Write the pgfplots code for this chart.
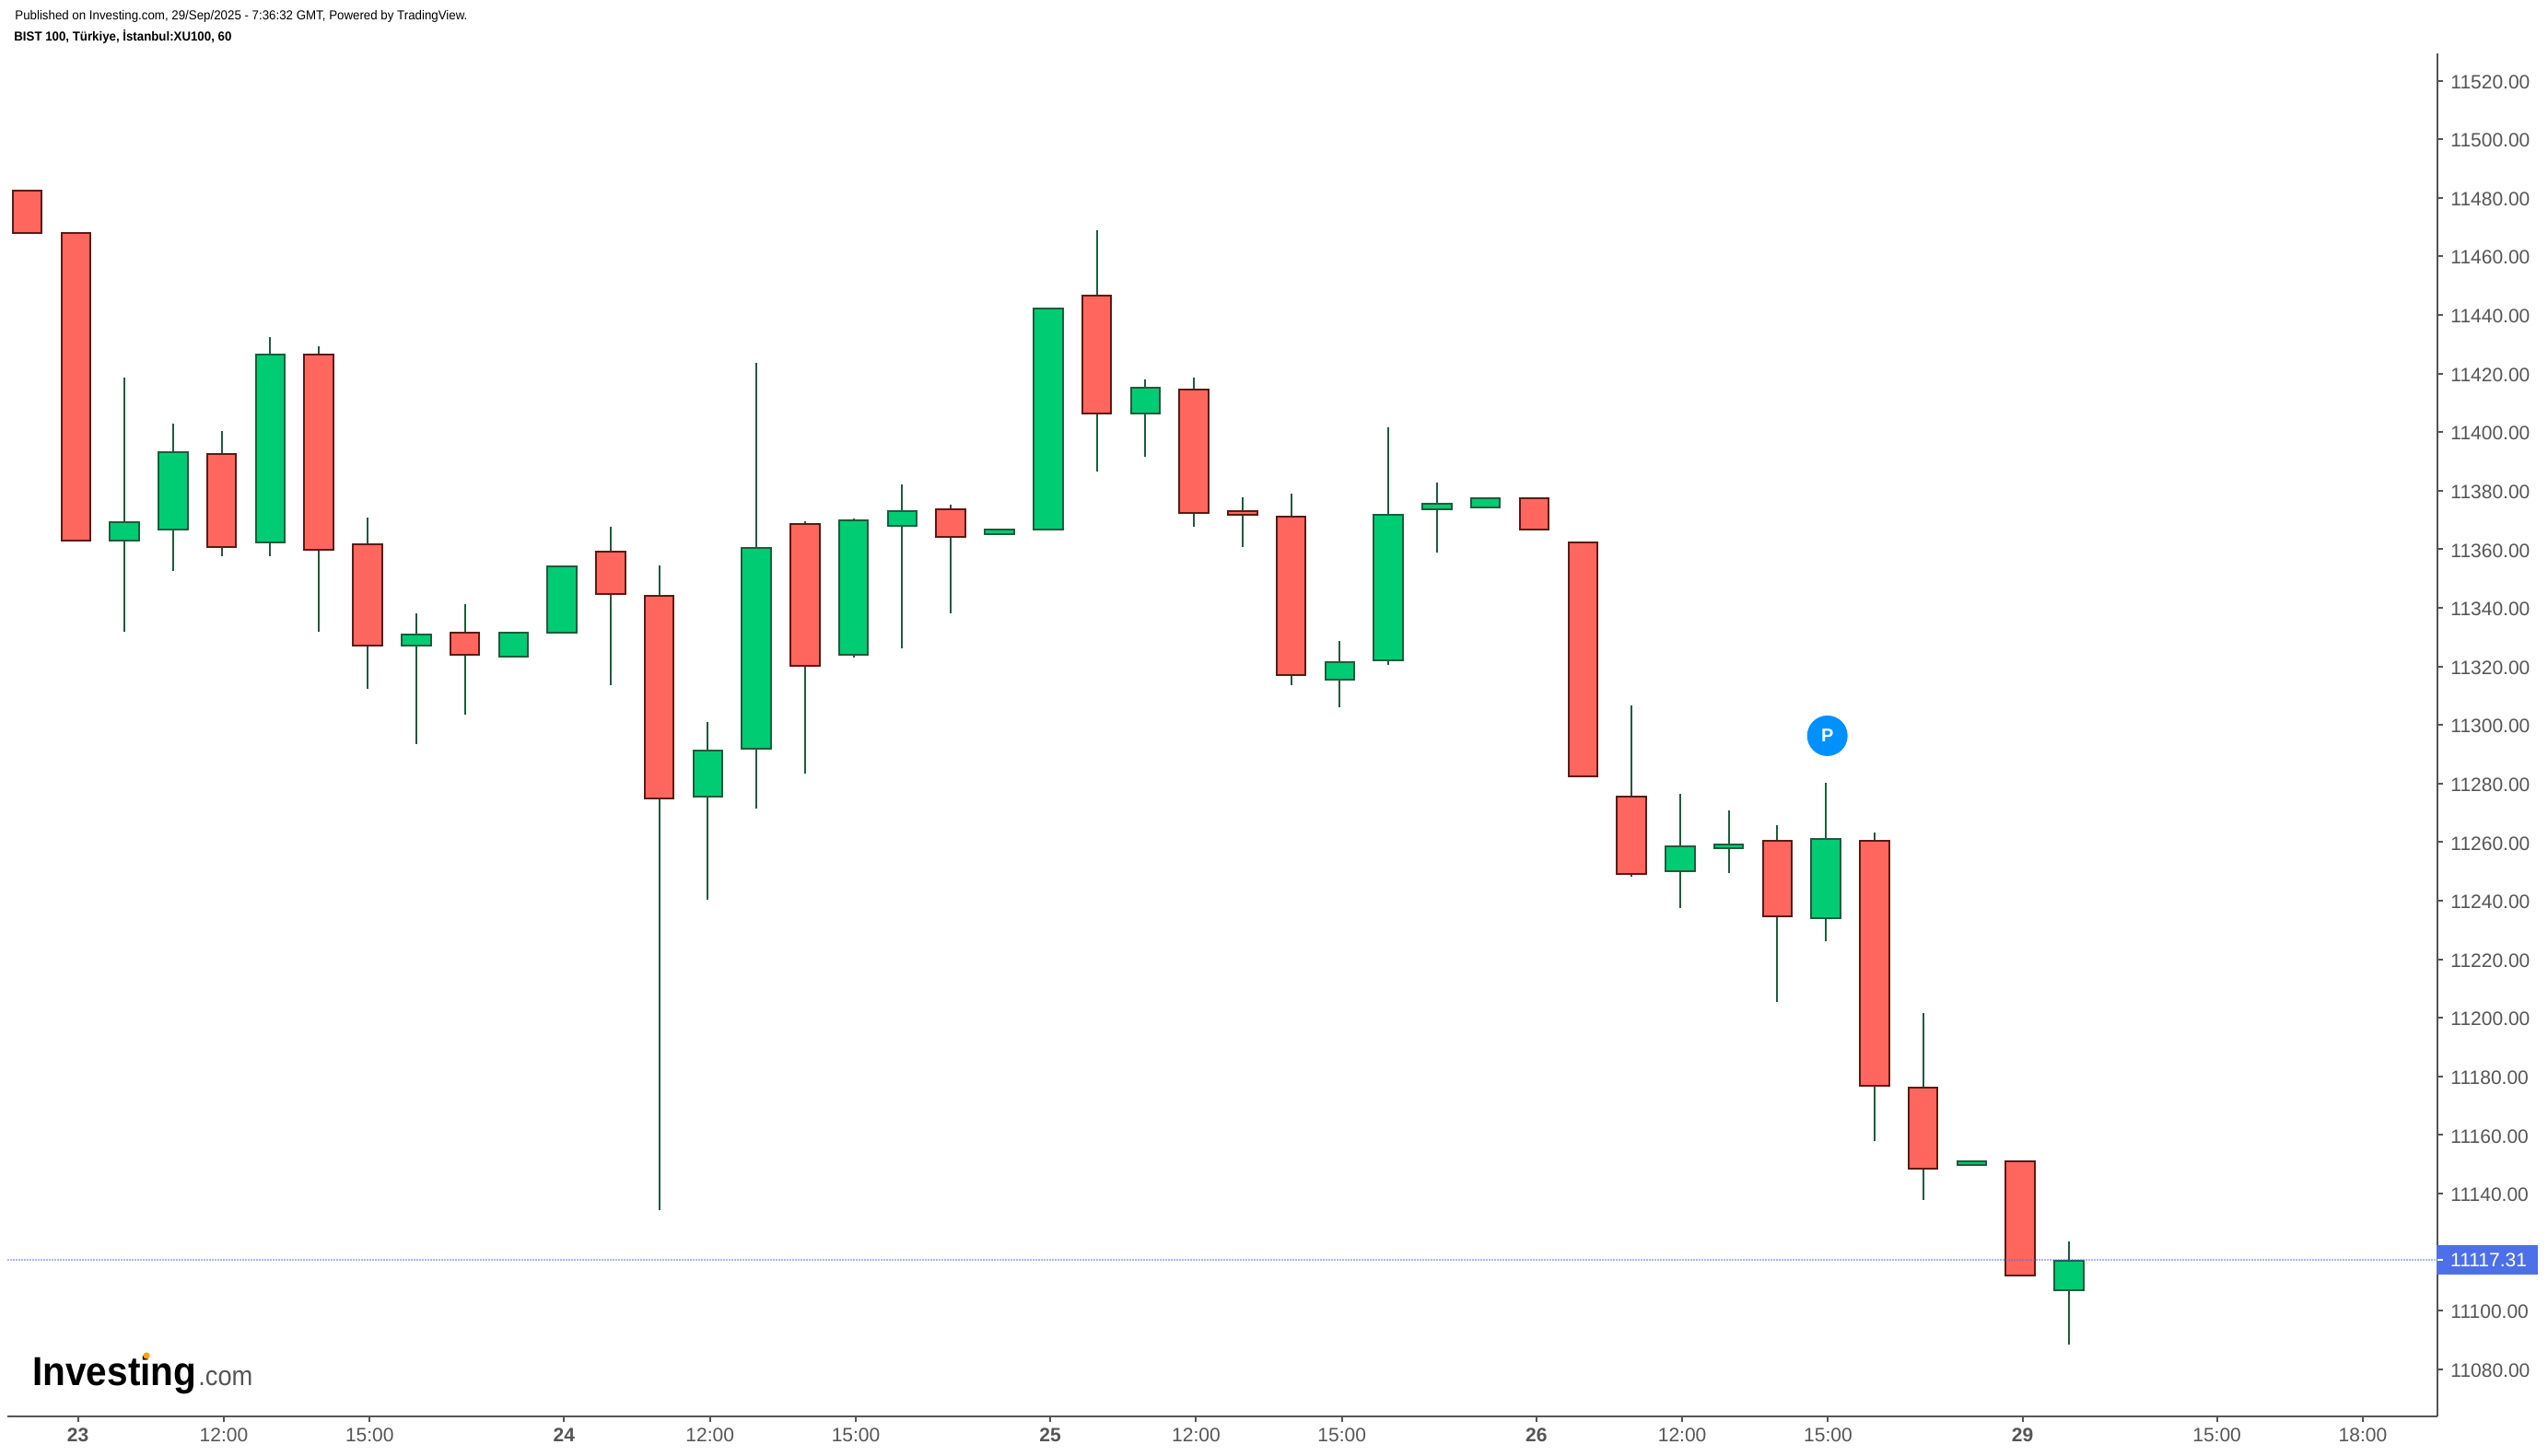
\documentclass[border=0pt]{standalone}
\usepackage{pgfplots}
\pgfplotsset{compat=1.18}
\usepackage{fontspec}
\setmainfont{Liberation Sans}
\definecolor{upfill}{RGB}{0,204,115}
\definecolor{upline}{RGB}{31,92,61}
\definecolor{dnfill}{RGB}{255,102,94}
\definecolor{dnline}{RGB}{92,26,21}
\definecolor{axisgray}{RGB}{85,85,85}
\definecolor{lastblue}{RGB}{77,112,232}
\definecolor{pblue}{RGB}{0,145,255}
\definecolor{logodot}{RGB}{255,165,0}
% candle: x, body low, body high, wick low, wick high, colour prefix
\newcommand\candle[6]{%
  \pgfmathsetmacro\xa{#1-0.2985}\pgfmathsetmacro\xb{#1+0.2985}%
  \addplot[line width=1pt,color=upline,line cap=butt,forget plot] coordinates {(#1,#4) (#1,#5)};
  \addplot[line width=1pt,draw=#6line,fill=#6fill,line join=miter,forget plot] coordinates {(\xa,#2) (\xb,#2) (\xb,#3) (\xa,#3)} --cycle;
}
\begin{document}
\begin{tikzpicture}[x=1pt,y=1pt]
\useasboundingbox (0,0) rectangle (1383,790);
\begin{axis}[
  at={(4pt,21.15pt)},anchor=south west,
  scale only axis,width=1319pt,height=739.85pt,
  xmin=-0.409,xmax=49.58,ymin=11064,ymax=11529.3,
  axis y line=right,axis x line=bottom,
  axis line style={-,draw=axisgray,line width=1pt},
  clip=false,
  scaled y ticks=false,
  ytick={11080,11100,11140,11160,11180,11200,11220,11240,11260,11280,11300,11320,11340,11360,11380,11400,11420,11440,11460,11480,11500,11520},
  xtick={1.044,4.044,7.044,11.044,14.044,17.044,21.044,24.044,27.044,31.044,34.044,37.044,41.044,45.044,48.044},
  xticklabels={\textbf{23},12:00,15:00,\textbf{24},12:00,15:00,\textbf{25},12:00,15:00,\textbf{26},12:00,15:00,\textbf{29},15:00,18:00},
  /pgf/number format/assume math mode=true,
  y tick label style={/pgf/number format/.cd,fixed,fixed zerofill,precision=2,1000 sep={},/tikz/.cd,font=\fontsize{10.5pt}{12pt}\selectfont,text=axisgray,inner sep=0pt,xshift=4pt,yshift=-0.7pt},
  x tick label style={font=\fontsize{10.5pt}{12pt}\selectfont,text=axisgray,inner sep=0pt,yshift=-3.5pt},
  tick style={draw=axisgray,line width=1pt},
  major tick length=3pt,
  tick align=outside,
]
\candle{0}{11467.9}{11482.5}{11467.9}{11482.5}{dn}
\candle{1}{11362.9}{11468.0}{11362.9}{11468.0}{dn}
\candle{2}{11362.9}{11369.2}{11331.9}{11418.6}{up}
\candle{3}{11366.6}{11393.2}{11352.6}{11402.8}{up}
\candle{4}{11360.9}{11392.6}{11357.7}{11400.3}{dn}
\candle{5}{11362.2}{11426.5}{11357.7}{11432.4}{up}
\candle{6}{11359.7}{11426.5}{11331.9}{11429.3}{dn}
\candle{7}{11327.1}{11361.8}{11312.4}{11370.8}{dn}
\candle{8}{11327.1}{11330.9}{11293.4}{11338.1}{up}
\candle{9}{11324.0}{11331.6}{11303.6}{11341.2}{dn}
\candle{10}{11323.4}{11331.6}{11323.4}{11331.6}{up}
\candle{11}{11331.4}{11354.2}{11331.4}{11354.2}{up}
\candle{12}{11344.7}{11359.2}{11313.7}{11367.6}{dn}
\candle{13}{11274.8}{11344.2}{11134.3}{11354.4}{dn}
\candle{14}{11275.6}{11291.3}{11240.3}{11300.9}{up}
\candle{15}{11291.8}{11360.5}{11271.5}{11423.6}{up}
\candle{16}{11320.1}{11368.7}{11283.5}{11369.4}{dn}
\candle{17}{11323.8}{11369.9}{11323.1}{11370.6}{up}
\candle{18}{11367.9}{11373.0}{11326.2}{11382.1}{up}
\candle{19}{11364.1}{11373.6}{11338.1}{11375.2}{dn}
\candle{20}{11365.3}{11366.8}{11365.3}{11366.8}{up}
\candle{21}{11366.6}{11442.3}{11366.6}{11442.3}{up}
\candle{22}{11406.2}{11446.7}{11386.6}{11468.9}{dn}
\candle{23}{11406.2}{11415.1}{11391.7}{11417.9}{up}
\candle{24}{11372.3}{11414.5}{11367.7}{11418.6}{dn}
\candle{25}{11371.7}{11373.0}{11360.8}{11377.7}{dn}
\candle{26}{11316.9}{11371.2}{11313.7}{11378.9}{dn}
\candle{27}{11315.6}{11321.4}{11306.1}{11328.6}{up}
\candle{28}{11322.0}{11371.8}{11320.5}{11401.5}{up}
\candle{29}{11373.5}{11375.5}{11358.9}{11382.8}{up}
\candle{30}{11374.2}{11377.5}{11374.2}{11377.5}{up}
\candle{31}{11366.6}{11377.5}{11366.6}{11377.5}{dn}
\candle{32}{11282.3}{11362.4}{11282.3}{11362.4}{dn}
\candle{33}{11249.0}{11275.6}{11248.3}{11306.6}{dn}
\candle{34}{11250.2}{11258.6}{11237.6}{11276.4}{up}
\candle{35}{11257.8}{11259.3}{11249.5}{11270.8}{up}
\candle{36}{11234.7}{11260.4}{11205.4}{11265.7}{dn}
\candle{37}{11234.1}{11261.2}{11226.3}{11280.2}{up}
\candle{38}{11176.7}{11260.4}{11157.8}{11263.2}{dn}
\candle{39}{11148.4}{11176.2}{11137.7}{11201.6}{dn}
\candle{40}{11149.6}{11151.1}{11149.6}{11151.1}{up}
\candle{41}{11111.9}{11151.1}{11111.9}{11151.1}{dn}
\candle{42}{11106.9}{11117.1}{11088.4}{11123.6}{up}
\addplot[color=lastblue,opacity=0.5,line width=1pt,dash pattern=on 1pt off 0.5pt,forget plot] coordinates {(-0.409,11117.31) (49.58,11117.31)};
\node[fill=lastblue,anchor=west,minimum width=55pt,minimum height=16pt,inner sep=0pt,outer sep=0pt] at (axis cs:49.56,11117.31) {};
\draw[white,line width=1pt] (axis cs:49.58,11117.31) -- ++(3pt,0pt);
\node[anchor=west,inner sep=0pt,text=white,font=\fontsize{10.5pt}{12pt}\selectfont] at (axis cs:49.84,11117.31) {11117.31};
\node[circle,fill=pblue,minimum size=22pt,inner sep=0pt,outer sep=0pt,text=white,font=\fontsize{10pt}{12pt}\selectfont\bfseries] at (axis cs:37.03,11296.3) {P};
\end{axis}
\node[anchor=base west,inner sep=0pt,text=black,font=\fontsize{7pt}{8pt}\selectfont] at (8,779) {\resizebox{245.5pt}{\height}{Published on Investing.com, 29/Sep/2025 - 7:36:32 GMT, Powered by TradingView.}};
\node[anchor=base west,inner sep=0pt,text=black,font=\fontsize{7pt}{8pt}\selectfont\bfseries] at (7.5,767.5) {\resizebox{118pt}{\height}{BIST 100, Türkiye, İstanbul:XU100, 60}};
\node[anchor=base west,inner sep=0pt,text=black,font=\fontsize{22pt}{24pt}\selectfont\bfseries] at (17.5,38) {\resizebox{89pt}{\height}{Investing}};
\node[anchor=base west,inner sep=0pt,text=axisgray,font=\fontsize{15pt}{17pt}\selectfont] at (107.5,38) {\resizebox{29.5pt}{\height}{.com}};
\fill[logodot] (79.5,54) circle (1.8pt);
\end{tikzpicture}
\end{document}
